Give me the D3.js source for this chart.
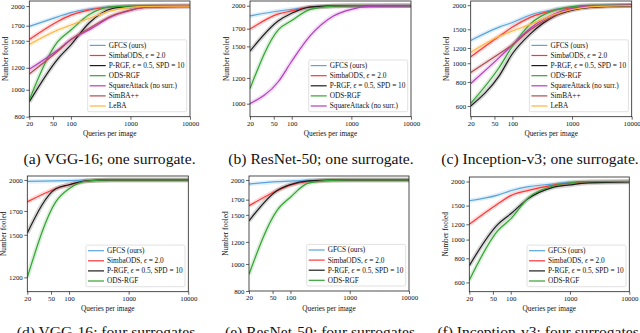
<!DOCTYPE html>
<html>
<head>
<meta charset="utf-8">
<script src="https://cdn.jsdelivr.net/npm/d3@7"></script>
<style>
  body { margin: 0; background: #fff; }
  svg { display: block; }
  text { font-family: "Liberation Serif", "DejaVu Serif", serif; fill: #111; }
</style>
</head>
<body>
<svg id="chart" width="640" height="333"></svg>
<script>
// legend order (rows of every panel array follow this order)
var methods = ["GFCS (ours)", "SimbaODS", "P-RGF", "ODS-RGF", "SquareAttack (no surr.)", "SimBA++", "LeBA"];
var queries = [20, 60, 100, 200, 500, 1000, 2000, 10000];
var xTicks = [20, 50, 100, 1000, 10000];

// (a) VGG-16, one surrogate
var vggOne = [
  [1690, 1830, 1895, 1950, 1990, 1998, 2000, 2000],
  [1515, 1760, 1855, 1935, 1985, 1995, 2000, 2000],
  [905, 1290, 1450, 1735, 1960, 1993, 1999, 2000],
  [920, 1490, 1640, 1860, 1990, 1999, 2000, 2000],
  [1185, 1390, 1515, 1640, 1840, 1930, 1985, 2000],
  [1140, 1375, 1515, 1660, 1850, 1935, 1985, 2000],
  [1455, 1640, 1710, 1805, 1930, 1980, 1995, 2000]
];
// (b) ResNet-50, one surrogate
var resOne = [
  [1860, 1927, 1950, 1980, 1997, 2000, 2000, 2000],
  [1695, 1887, 1928, 1980, 1995, 2000, 2000, 2000],
  [1450, 1797, 1896, 1980, 1997, 2000, 2000, 2000],
  [1113, 1690, 1800, 1945, 1995, 2000, 2000, 2000],
  [1000, 1170, 1350, 1610, 1860, 1950, 1990, 2000]
];
// (c) Inception-v3, one surrogate
var incOne = [
  [1313, 1540, 1626, 1780, 1900, 1955, 1990, 2000],
  [1079, 1380, 1540, 1730, 1880, 1940, 1980, 1995],
  [600, 860, 1120, 1420, 1750, 1885, 1950, 1985],
  [619, 950, 1225, 1600, 1880, 1965, 1995, 2000],
  [785, 1070, 1245, 1520, 1800, 1920, 1980, 2000],
  [894, 1120, 1245, 1490, 1760, 1900, 1960, 2000],
  [1140, 1380, 1470, 1590, 1790, 1900, 1960, 1990]
];
// (d) VGG-16, four surrogates
var vggFour = [
  [1985, 1990, 1993, 1998, 2000, 2000, 2000, 2000],
  [1783, 1910, 1950, 1990, 2000, 2000, 2000, 2000],
  [1515, 1910, 1950, 1992, 2000, 2000, 2000, 2000],
  [1200, 1783, 1910, 1988, 2000, 2000, 2000, 2000]
];
// (e) ResNet-50, four surrogates
var resFour = [
  [1934, 1972, 1983, 1995, 2000, 2000, 2000, 2000],
  [1616, 1835, 1918, 1975, 1995, 2000, 2000, 2000],
  [1427, 1835, 1925, 1985, 2000, 2000, 2000, 2000],
  [919, 1560, 1735, 1950, 1995, 2000, 2000, 2000]
];
// (f) Inception-v3, four surrogates
var incFour = [
  [1589, 1700, 1790, 1880, 1940, 1985, 1995, 2000],
  [1200, 1530, 1690, 1800, 1910, 1960, 1990, 2000],
  [733, 1195, 1360, 1635, 1860, 1920, 1965, 1990],
  [615, 1110, 1280, 1650, 1890, 1970, 1995, 2000]
];

var colors = ["#5aa6dc", "#ff3535", "#1c1c1c", "#33a333", "#b33dc0", "#b24a50", "#ffb43c"];
var labels = [
  [["GFCS (ours)", 0]],
  [["SimbaODS, ", 0], ["\u03f5", 1], [" = 2.0", 0]],
  [["P-RGF, ", 0], ["\u03f5", 1], [" = 0.5, SPD = 10", 0]],
  [["ODS-RGF", 0]],
  [["SquareAttack (no surr.)", 0]],
  [["SimBA++", 0]],
  [["LeBA", 0]]
];

var panels = [
  {data: vggOne, yTicks: [800, 1000, 1200, 1500, 1700, 2000], yDom: [800, 2086], box: [29.3, 190, 1, 116.7], cap: "(a) VGG-16; one surrogate.", capX: 109.5, capY: 164},
  {data: resOne, yTicks: [1000, 1200, 1500, 1700, 2000], yDom: [912, 2068], box: [250, 411, 1, 116.7], cap: "(b) ResNet-50; one surrogate.", capX: 321, capY: 164},
  {data: incOne, yTicks: [600, 800, 1000, 1200, 1500, 2000], yDom: [528, 2103], box: [470.7, 631.7, 1, 116.7], cap: "(c) Inception-v3; one surrogate.", capX: 540, capY: 164},
  {data: vggFour, yTicks: [1200, 1500, 1700, 2000], yDom: [1113, 2042], box: [27.3, 188.3, 176, 291.7], cap: "(d) VGG-16; four surrogates.", capX: 108, capY: 337},
  {data: resFour, yTicks: [800, 1000, 1200, 1500, 1700, 2000], yDom: [800, 2067], box: [249, 409, 176, 291], cap: "(e) ResNet-50; four surrogates.", capX: 322, capY: 337},
  {data: incFour, yTicks: [600, 800, 1000, 1200, 1500, 2000], yDom: [537, 2110], box: [469.3, 629.3, 177, 291.7], cap: "(f) Inception-v3; four surrogates.", capX: 540, capY: 337}
];

var svg = d3.select("#chart");
var defs = svg.append("defs");

panels.forEach(function (p, pi) {
  var L = p.box[0], R = p.box[1], T = p.box[2], B = p.box[3];
  var x = d3.scaleLog().domain([20, 10000]).range([L, R]);
  var y = d3.scaleLog().domain(p.yDom).range([B, T]);

  defs.append("clipPath").attr("id", "clip" + pi)
    .append("rect").attr("x", L).attr("y", T).attr("width", R - L).attr("height", B - T);

  var g = svg.append("g");

  // series: faint band + line
  var line = d3.line()
    .x(function (d, i) { return x(queries[i]); })
    .y(function (d) { return y(d); })
    .curve(d3.curveMonotoneX);
  var lines = g.append("g").attr("clip-path", "url(#clip" + pi + ")");
  p.data.forEach(function (vals, si) {
    lines.append("path").attr("d", line(vals))
      .attr("fill", "none").attr("stroke", colors[si])
      .attr("stroke-width", 4.5).attr("stroke-opacity", 0.18);
  });
  p.data.forEach(function (vals, si) {
    lines.append("path").attr("d", line(vals))
      .attr("fill", "none").attr("stroke", colors[si])
      .attr("stroke-width", 1.2);
  });

  // axes
  var xAxis = d3.axisBottom(x).tickValues(xTicks).tickFormat(d3.format("d")).tickSize(3).tickPadding(1.5);
  var yAxis = d3.axisLeft(y).tickValues(p.yTicks).tickFormat(d3.format("d")).tickSize(3).tickPadding(1.5);
  var gx = g.append("g").attr("transform", "translate(0," + B + ")").call(xAxis);
  var gy = g.append("g").attr("transform", "translate(" + L + ",0)").call(yAxis);
  [gx, gy].forEach(function (a) {
    a.select(".domain").remove();
    a.selectAll("line").attr("stroke", "#222").attr("stroke-width", 0.7);
    a.selectAll("text").attr("font-size", 6.9).attr("font-family", "Liberation Serif").attr("fill", "#222");
  });

  // frame
  g.append("rect").attr("x", L).attr("y", T).attr("width", R - L).attr("height", B - T)
    .attr("fill", "none").attr("stroke", "#222").attr("stroke-width", 0.8);

  g.append("text").attr("x", (L + R) / 2).attr("y", B + 19.5)
    .attr("text-anchor", "middle").attr("font-size", 7.3).text("Queries per image");
  g.append("text")
    .attr("transform", "translate(" + (L - 21.5) + "," + ((T + B) / 2) + ") rotate(-90)")
    .attr("text-anchor", "middle").attr("font-size", 7.3).text("Number fooled");

  // legend, lower right
  var n = p.data.length, pitch = 10.1, lw = 99, lh = n * pitch + 1.2;
  var lx = R - 3.3 - lw, ly = B - 5 - lh;
  var lg = g.append("g");
  lg.append("rect").attr("x", lx).attr("y", ly).attr("width", lw).attr("height", lh)
    .attr("rx", 1.5).attr("fill", "#fff").attr("fill-opacity", 0.85)
    .attr("stroke", "#d4d4d4").attr("stroke-width", 0.7);
  d3.range(n).forEach(function (i) {
    var cy = ly + 5.6 + i * pitch;
    lg.append("line").attr("x1", lx + 2).attr("x2", lx + 18).attr("y1", cy).attr("y2", cy)
      .attr("stroke", colors[i]).attr("stroke-width", 1.2);
    var t = lg.append("text").attr("x", lx + 21).attr("y", cy + 2.4).attr("font-size", 7.3);
    labels[i].forEach(function (part) {
      t.append("tspan").attr("font-style", part[1] ? "italic" : null).text(part[0]);
    });
  });

  // caption
  svg.append("text").attr("x", p.capX).attr("y", p.capY)
    .attr("text-anchor", "middle").attr("font-size", 15.6).text(p.cap);
});
</script>
</body>
</html>
